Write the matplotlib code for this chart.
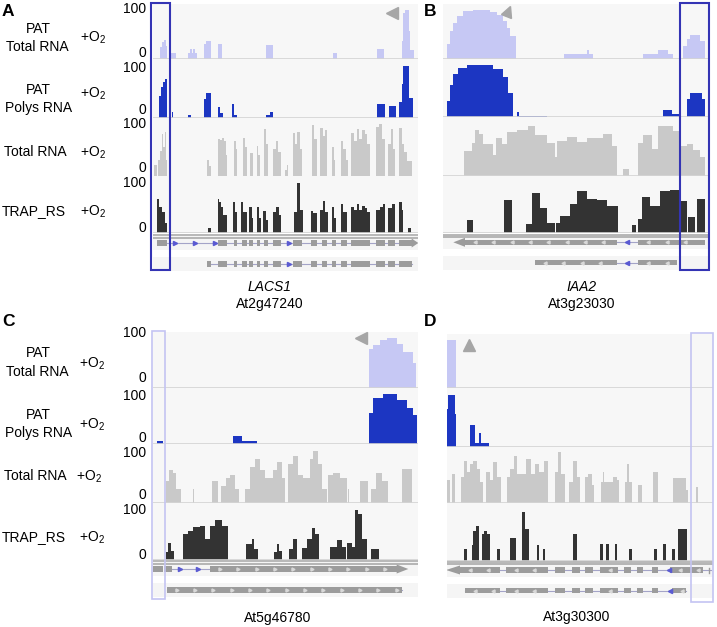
import matplotlib.pyplot as plt
from matplotlib.patches import Rectangle, Polygon
from matplotlib.markers import MarkerStyle
from matplotlib.transforms import Affine2D
import numpy as np

plt.rcParams['font.family'] = ['Liberation Sans', 'DejaVu Sans']
plt.rcParams['mathtext.fontset'] = 'custom'
plt.rcParams['mathtext.rm'] = 'Liberation Sans'
plt.rcParams['mathtext.it'] = 'Liberation Sans:italic'

W, H = 717, 627

# ---- coverage data: (start, end, scaled reads 0-100), genome units of each window ----
# panel A  LACS1 At2g47240
a_pat_total = [(30, 35, 24), (35, 42, 33), (42, 48, 37), (48, 52, 25),
               (62, 78, 12),
               (115, 120, 12), (120, 125, 19), (125, 130, 12), (130, 135, 19), (135, 140, 12),
               (162, 168, 30), (168, 182, 36), (203, 215, 30), (348, 370, 28),
               (548, 560, 12), (682, 703, 19),
               (755, 760, 36), (760, 765, 90), (765, 776, 97), (776, 781, 55), (781, 792, 18)]
a_pat_polys = [(28, 32, 40), (32, 38, 56), (38, 44, 65), (44, 50, 72),
               (65, 70, 11), (115, 122, 5),
               (162, 167, 35), (167, 182, 46), (203, 210, 21), (210, 220, 10),
               (247, 252, 26), (252, 262, 5), (348, 360, 5), (360, 370, 11),
               (682, 705, 25), (718, 737, 22),
               (748, 755, 30), (755, 760, 62), (760, 778, 96), (778, 790, 37)]
a_total = [(12, 20, 22), (25, 30, 30), (30, 35, 48), (35, 40, 78), (40, 44, 55), (44, 48, 82), (48, 50, 30),
           (170, 176, 31), (176, 182, 20),
           (205, 210, 70), (210, 215, 67), (215, 222, 72), (222, 228, 66), (228, 232, 40),
           (252, 258, 66), (258, 262, 50), (278, 284, 72), (284, 290, 55), (300, 308, 44),
           (320, 325, 56), (325, 330, 40), (343, 348, 87), (348, 353, 60),
           (370, 378, 50), (378, 385, 65), (385, 393, 45), (405, 410, 12), (410, 415, 22),
           (428, 435, 80), (435, 442, 60), (442, 450, 82), (450, 455, 50),
           (485, 492, 95), (492, 500, 70), (510, 518, 90), (518, 525, 75), (525, 530, 85),
           (545, 552, 55), (552, 555, 30), (572, 580, 66), (580, 588, 50), (588, 595, 30),
           (603, 612, 80), (612, 620, 65), (620, 628, 88), (628, 636, 70), (636, 644, 85),
           (644, 652, 78), (652, 660, 60), (678, 686, 92), (686, 695, 97), (695, 705, 70),
           (715, 722, 60), (722, 728, 88), (728, 735, 50),
           (748, 755, 90), (755, 762, 60), (762, 770, 45), (770, 785, 28)]
a_trap = [(22, 28, 65), (28, 35, 50), (35, 45, 40), (45, 50, 20), (175, 183, 11),
          (203, 208, 65), (208, 212, 60), (212, 218, 50), (218, 230, 35),
          (250, 256, 59), (256, 262, 40), (272, 280, 60), (280, 290, 40),
          (298, 305, 50), (305, 310, 30), (320, 327, 50), (327, 333, 30),
          (340, 347, 43), (347, 353, 25), (370, 378, 40), (378, 386, 50), (386, 393, 35),
          (432, 440, 40), (440, 450, 95), (450, 460, 45), (482, 490, 43), (490, 500, 38),
          (510, 518, 45), (518, 524, 62), (524, 535, 40), (545, 552, 50), (552, 558, 30),
          (572, 580, 56), (580, 590, 40),
          (603, 612, 50), (612, 620, 45), (620, 628, 55), (628, 636, 45), (636, 644, 52),
          (644, 652, 48), (652, 660, 40), (678, 690, 45), (690, 698, 50), (698, 705, 55),
          (715, 725, 48), (725, 735, 56), (748, 755, 60), (755, 760, 45), (775, 782, 10)]
a_exons_1 = [(22, 50), (205, 232), (252, 262), (275, 290), (298, 308), (320, 330), (343, 353),
             (370, 393), (430, 455), (482, 500), (515, 530), (545, 558), (572, 590),
             (603, 660), (678, 705), (715, 735), (748, 785)]
a_exons_2 = [(172, 182)] + a_exons_1[1:]

# panel B  IAA2 At3g23030
b_pat_total = [(22, 30, 30), (30, 40, 55), (40, 50, 70), (50, 70, 85), (70, 100, 95),
               (100, 150, 97), (150, 170, 93), (170, 190, 87), (190, 200, 75), (200, 210, 62),
               (210, 228, 45), (372, 440, 11), (440, 448, 19), (448, 460, 11),
               (610, 655, 11), (655, 685, 18), (685, 698, 11),
               (728, 740, 25), (740, 750, 40), (750, 780, 47), (780, 795, 35)]
b_pat_polys = [(22, 30, 30), (30, 40, 60), (40, 55, 80), (55, 80, 92), (80, 160, 97),
               (160, 190, 90), (190, 205, 75), (205, 220, 45), (230, 238, 10), (238, 320, 3),
               (668, 695, 14), (695, 720, 6), (740, 750, 35), (750, 785, 45), (785, 795, 35)]
b_total = [(72, 95, 45), (95, 105, 60), (105, 118, 85), (118, 130, 78), (130, 160, 58),
           (160, 168, 38), (168, 185, 70), (185, 200, 58), (200, 230, 80), (230, 265, 85),
           (265, 285, 92), (285, 320, 75), (320, 345, 60), (345, 352, 35), (352, 380, 65),
           (380, 410, 72), (410, 440, 62), (440, 490, 70), (490, 515, 78), (515, 530, 55),
           (550, 568, 13),
           (595, 610, 60), (610, 635, 75), (635, 655, 50), (655, 700, 92), (700, 720, 82),
           (720, 740, 55), (740, 760, 58), (760, 780, 48), (780, 795, 35)]
b_trap = [(80, 100, 25), (193, 215, 62), (258, 275, 17), (275, 300, 75), (300, 320, 48),
          (320, 345, 20), (348, 360, 20), (360, 390, 33), (390, 410, 55), (410, 440, 80),
          (440, 470, 65), (470, 500, 62), (500, 533, 52), (577, 588, 15), (595, 605, 26),
          (605, 630, 68), (630, 660, 52), (660, 690, 80), (690, 720, 82), (720, 742, 60),
          (745, 765, 30), (770, 795, 65)]
b_exons_1 = [(75, 530), (595, 795)]
b_exons_2 = [(285, 530), (595, 712)]

# panel C  At5g46780
c_pat_total = [(657, 668, 75), (668, 690, 82), (690, 710, 92), (710, 742, 96),
               (742, 760, 84), (760, 790, 68), (790, 798, 48)]
c_pat_polys = [(22, 40, 5), (248, 275, 14), (275, 320, 5),
               (658, 668, 60), (668, 700, 88), (700, 740, 97), (740, 770, 85),
               (770, 790, 70), (790, 800, 55)]
c_total = [(48, 58, 40), (58, 68, 60), (68, 78, 55), (78, 92, 25), (128, 133, 25),
           (185, 205, 40), (212, 228, 30), (228, 240, 45), (240, 255, 50), (255, 268, 25),
           (285, 300, 25), (300, 315, 65), (315, 330, 80), (330, 345, 60), (345, 370, 45),
           (370, 380, 60), (380, 395, 75), (395, 405, 45),
           (415, 430, 70), (430, 445, 85), (445, 460, 50), (460, 480, 45), (480, 490, 80),
           (490, 505, 95), (505, 515, 70), (515, 532, 25),
           (535, 550, 50), (550, 570, 55), (570, 590, 45), (594, 598, 25),
           (630, 655, 40), (662, 678, 25), (678, 695, 55), (695, 715, 40), (755, 785, 62)]
c_trap = [(48, 55, 15), (55, 62, 32), (62, 72, 18),
          (100, 115, 50), (115, 130, 55), (130, 150, 62), (150, 165, 65), (165, 180, 40),
          (180, 195, 65), (195, 215, 75), (215, 235, 65),
          (288, 305, 30), (305, 312, 40), (312, 325, 20),
          (373, 380, 15), (380, 388, 30), (388, 397, 18), (418, 428, 20), (428, 442, 40),
          (455, 470, 22), (470, 485, 40), (485, 495, 60), (495, 508, 50),
          (540, 560, 25), (560, 575, 38), (575, 588, 25),
          (590, 605, 32), (605, 615, 25), (615, 625, 95), (625, 635, 88), (635, 650, 40),
          (662, 688, 20)]
c_exons_1 = [(5, 40), (42, 65), (180, 740)]
c_exons_2 = [(50, 755)]

# panel D  At3g30300
d_pat_total = [(22, 48, 97)]
d_pat_polys = [(22, 25, 70), (25, 45, 95), (45, 48, 60), (90, 105, 40), (105, 118, 7),
               (118, 124, 25), (124, 148, 7)]
d_total = [(22, 30, 45), (35, 45, 55),
           (62, 72, 50), (72, 80, 80), (80, 90, 60), (90, 100, 75), (100, 110, 80),
           (110, 120, 65), (120, 130, 40),
           (138, 150, 60), (150, 160, 45), (160, 172, 78), (172, 182, 50),
           (200, 210, 50), (210, 222, 65), (222, 232, 90), (232, 245, 55),
           (245, 258, 55), (258, 272, 85), (272, 285, 55), (285, 298, 75),
           (298, 312, 60), (312, 325, 80),
           (345, 355, 60), (355, 362, 98), (362, 375, 55),
           (388, 400, 40), (400, 410, 80), (410, 420, 50),
           (435, 445, 50), (445, 455, 55), (455, 462, 35),
           (482, 488, 40), (488, 493, 60), (493, 520, 40), (520, 530, 50), (530, 537, 45),
           (555, 562, 40), (562, 568, 75), (568, 575, 40), (595, 605, 35), (640, 655, 60),
           (700, 738, 48), (738, 745, 25), (767, 775, 32)]
d_trap = [(73, 80, 22), (95, 100, 30), (100, 108, 55), (108, 118, 65),
          (127, 132, 50), (132, 142, 55), (142, 150, 50), (172, 180, 22), (210, 228, 42),
          (245, 255, 92), (255, 268, 60), (290, 296, 30), (308, 315, 22), (400, 410, 50),
          (480, 488, 32), (498, 506, 32), (525, 532, 32), (568, 575, 22), (643, 650, 22),
          (670, 678, 32), (695, 704, 22), (715, 742, 60)]
d_exons_1 = [(60, 180), (198, 325), (345, 375), (395, 420), (435, 460), (480, 535),
             (552, 572), (590, 608), (635, 655), (690, 790)]
d_exons_2 = [(75, 180), (198, 325), (345, 375), (395, 420), (435, 460), (480, 535),
             (552, 572), (590, 608), (635, 655), (695, 737)]

track_colors = ['#c6c8f4', '#1c36c2', '#c9c9c9', '#333333']

panels = [
    dict(letter='A', x0=153, x1=418, xlim=(9, 804),
         tops=[4, 59, 118, 176.5, 233.5], dbl=(235, 237.5), rows=(243, 264), bot=273,
         data=[a_pat_total, a_pat_polys, a_total, a_trap],
         exons=(a_exons_1, a_exons_2), intron=((50, 785), (182, 785)),
         chev=([75, 135, 195, 418], [418]), strand='>', arrow=(785, 805),
         tri=(725, 91, '<', 0), box=(151, 2.5, 170, 270), boxcol='#3434b4', boxlw=1.5),
    dict(letter='B', x0=443, x1=709, xlim=(9, 807),
         tops=[4, 59.3, 117.3, 175.7, 233.3], dbl=(234.8, 237), rows=(242.3, 262.7), bot=271,
         data=[b_pat_total, b_pat_polys, b_total, b_trap],
         exons=(b_exons_1, b_exons_2), intron=((530, 595), (530, 595)),
         chev=([560], [560]), strand='<', arrow=(75, 40),
         tri=(205, 94, '^', -25), box=(680, 2.7, 709.3, 270), boxcol='#3434b4', boxlw=1.5),
    dict(letter='C', x0=153, x1=418, xlim=(9, 804),
         tops=[331.5, 388, 443.5, 503, 560], dbl=(561.5, 563.7), rows=(569, 590), bot=597,
         data=[c_pat_total, c_pat_polys, c_total, c_trap],
         exons=(c_exons_1, c_exons_2), intron=((65, 180), (50, 755)),
         chev=([90, 145], []), strand='>', arrow=(740, 775),
         tri=(632, 95, '<', 0), box=(151.7, 330.7, 165, 599.3), boxcol='#c4c4f2', boxlw=1.2),
    dict(letter='D', x0=447, x1=713, xlim=(21, 819),
         tops=[334, 388.3, 446.7, 503.3, 560.7], dbl=(562.2, 564.4), rows=(570, 590.7), bot=598,
         data=[d_pat_total, d_pat_polys, d_total, d_trap],
         exons=(d_exons_1, d_exons_2), intron=((60, 812), (75, 737)),
         chev=([688], [690]), strand='<', arrow=(60, 18),
         tri=(88, 87, '^', 0), box=(690.7, 333.3, 713.3, 601.7), boxcol='#c4c4f2', boxlw=1.2),
]

fig = plt.figure(figsize=(W / 100, H / 100), dpi=100, facecolor='white')


def px_axes(x0, y0, x1, y1):
    ax = fig.add_axes([x0 / W, 1 - y1 / H, (x1 - x0) / W, (y1 - y0) / H])
    ax.set_xticks([])
    ax.set_yticks([])
    for sp in ax.spines.values():
        sp.set_visible(False)
    return ax


for p in panels:
    # coverage tracks
    for i, segs in enumerate(p['data']):
        ax = px_axes(p['x0'], p['tops'][i], p['x1'], p['tops'][i + 1])
        ax.set_facecolor('#f7f7f7')
        xs, ys = [], []
        for s, e, h in sorted(segs):
            xs += [s, s, e, e]
            ys += [0, h, h, 0]
        ax.fill(xs, ys, color=track_colors[i], lw=0, zorder=2)
        ax.axhline(0, color='#d4d4d4', lw=1.2, zorder=3)
        ax.set_xlim(p['xlim'])
        ax.set_ylim(0, 108)
        if i == 0:
            tx, ty, mk, rot = p['tri']
            if rot:
                mk = MarkerStyle(mk, transform=Affine2D().rotate_deg(rot))
            ax.plot(tx, ty, linestyle='none', color='#a6a6a6', ms=8, clip_on=False, marker=mk)

    # gene models
    gax = px_axes(p['x0'], p['tops'][4], p['x1'], p['bot'])
    gax.set_xlim(p['xlim'])
    gax.set_ylim(p['bot'], p['tops'][4])
    gax.set_facecolor('white')
    for yl in p['dbl']:
        gax.axhline(yl, color='#a4a4a4', lw=1.1)
    for r, yc in enumerate(p['rows']):
        gax.add_patch(Rectangle((p['xlim'][0], yc - 7), p['xlim'][1] - p['xlim'][0], 14,
                                color='#f5f5f5', lw=0, zorder=0))
        i0, i1 = p['intron'][r]
        gax.plot([i0, i1], [yc, yc], color='#a4a4c8', lw=0.8, zorder=1)
        for s, e in p['exons'][r]:
            gax.add_patch(Rectangle((s, yc - 2.6), e - s, 5.2, color='#9c9c9c', lw=0, zorder=2))
            if p['strand'] == '<' or p['letter'] == 'C':
                for t in np.arange(s + 30, e - 10, 55):
                    gax.plot(t, yc, marker=p['strand'], ms=2.2, color='#d8d8d8', zorder=3)
        for c in p['chev'][r]:
            gax.plot(c, yc, marker=p['strand'], ms=3, color='#5a5ad2', zorder=3)
    a0, a1 = p['arrow']
    yc = p['rows'][0]
    gax.add_patch(Polygon([(a0, yc - 4.5), (a1, yc), (a0, yc + 4.5)], closed=True,
                          color='#9c9c9c', lw=0, zorder=2))
    if p['letter'] == 'D':
        gax.plot([806, 806], [yc - 2.5, yc + 2.5], color='#9c9c9c', lw=1)

# overlay for labels and boxes
ov = fig.add_axes([0, 0, 1, 1])
ov.set_xlim(0, W)
ov.set_ylim(H, 0)
ov.axis('off')
ov.patch.set_alpha(0)

for p in panels:
    bx0, by0, bx1, by1 = p['box']
    ov.add_patch(Rectangle((bx0, by0), bx1 - bx0, by1 - by0, fill=False,
                           edgecolor=p['boxcol'], lw=p['boxlw']))

letter_pos = {'A': (2, 11), 'B': (424, 11), 'C': (2, 321), 'D': (424, 321)}
for k, (x, y) in letter_pos.items():
    ov.text(x, y, k, fontsize=12.5, fontweight='bold', ha='left', va='center')

o2 = r'+$\mathrm{O}_2$'
fs = 10
# left labels, panel A
ov.text(38, 29, 'PAT', fontsize=fs, ha='center', va='center')
ov.text(37, 47, 'Total RNA', fontsize=fs, ha='center', va='center')
ov.text(80, 38, o2, fontsize=fs, ha='left', va='center')
ov.text(38, 90, 'PAT', fontsize=fs, ha='center', va='center')
ov.text(39, 108, 'Polys RNA', fontsize=fs, ha='center', va='center')
ov.text(80, 94, o2, fontsize=fs, ha='left', va='center')
ov.text(4, 152, 'Total RNA', fontsize=fs, ha='left', va='center')
ov.text(80, 153, o2, fontsize=fs, ha='left', va='center')
ov.text(2, 211, 'TRAP_RS', fontsize=fs, ha='left', va='center')
ov.text(80, 212, o2, fontsize=fs, ha='left', va='center')
# left labels, panel C
ov.text(38, 353, 'PAT', fontsize=fs, ha='center', va='center')
ov.text(37, 372, 'Total RNA', fontsize=fs, ha='center', va='center')
ov.text(79, 364, o2, fontsize=fs, ha='left', va='center')
ov.text(38, 415, 'PAT', fontsize=fs, ha='center', va='center')
ov.text(39, 433, 'Polys RNA', fontsize=fs, ha='center', va='center')
ov.text(79, 425, o2, fontsize=fs, ha='left', va='center')
ov.text(4, 476, 'Total RNA', fontsize=fs, ha='left', va='center')
ov.text(76, 477, o2, fontsize=fs, ha='left', va='center')
ov.text(2, 537, 'TRAP_RS', fontsize=fs, ha='left', va='center')
ov.text(79, 538, o2, fontsize=fs, ha='left', va='center')

# scale labels
for y in [9, 68, 124, 183, 333, 396, 453, 510]:
    ov.text(146, y, '100', fontsize=fs, ha='right', va='center')
for y in [53, 110, 168, 228, 378, 438, 495, 555]:
    ov.text(146, y, '0', fontsize=fs, ha='right', va='center')

# gene names
ov.text(270, 287, 'LACS1', fontsize=fs, ha='center', va='center', style='italic')
ov.text(270, 304, 'At2g47240', fontsize=fs, ha='center', va='center')
ov.text(582, 287, 'IAA2', fontsize=fs, ha='center', va='center', style='italic')
ov.text(582, 304, 'At3g23030', fontsize=fs, ha='center', va='center')
ov.text(278, 618, 'At5g46780', fontsize=fs, ha='center', va='center')
ov.text(577, 617, 'At3g30300', fontsize=fs, ha='center', va='center')

fig.savefig('out.png', dpi=100, facecolor='white')
